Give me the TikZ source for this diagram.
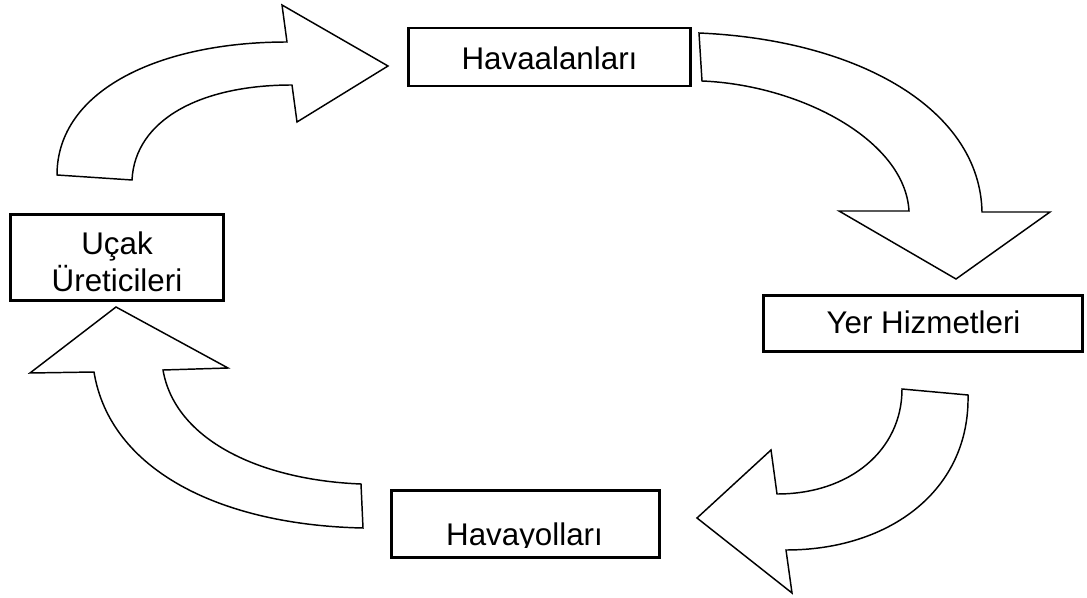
\documentclass[tikz,border=0pt]{standalone}
\usepackage{fontspec}
\setmainfont{Liberation Sans}
\begin{document}
\begin{tikzpicture}[x=0.75pt,y=-0.75pt,
  box/.style={draw=black,line width=2.2pt,fill=white,inner sep=0pt},
  lbl/.style={font=\fontsize{23.5}{27.75}\selectfont,align=center,inner sep=0pt},
  bentarrow/.style={draw=black,line width=1.1pt,fill=white,line join=miter}]
\useasboundingbox (0,0) rectangle (1087,598);

% stations of the cycle
\node[box,minimum width=212pt,minimum height=43.5pt] (hav) at (549.5,57) {};
\node[lbl] (havt) at (549.5,58) {Havaalanları};
\node[box,minimum width=160pt,minimum height=64.5pt] (ucak) at (117,257.5) {};
\node[lbl] (ucakt) at (117,262) {Uçak\\Üreticileri};
\node[box,minimum width=239pt,minimum height=42pt] (yer) at (923,323.5) {};
\node[lbl] (yert) at (923.5,322.5) {Yer Hizmetleri};
\node[box,minimum width=201pt,minimum height=50pt] (hyo) at (525.5,524) {};
\begin{scope}
  \clip (392,491) rectangle (659,547);
  \node[lbl,anchor=base] (hyot) at (524.5,545) {Havayolları};
\end{scope}

% bent arrow: manufacturers -> airports
\draw[bentarrow] (57,175) .. controls (57,90) and (160,42) .. (287,42)
  -- (282,5) -- (388,66) -- (297,122) -- (292,85)
  .. controls (200,85) and (135,120) .. (132,180) -- cycle;

% bent arrow: airports -> ground services
\draw[bentarrow] (699,33) .. controls (860,40) and (980,110) .. (982,212)
  -- (1050,212) -- (956,279) -- (839,211) -- (909,211)
  .. controls (905,140) and (800,85) .. (702,81) -- cycle;

% bent arrow: ground services -> airlines
\draw[bentarrow] (968,395) .. controls (970,490) and (890,550) .. (786,550)
  -- (792,593) -- (697,518) -- (771,450) -- (777,494)
  .. controls (850,494) and (902,450) .. (902,389) -- cycle;

% bent arrow: airlines -> manufacturers
\draw[bentarrow] (363,528) .. controls (220,525) and (110,470) .. (94,372)
  -- (30,373) -- (116,307) -- (228,368) -- (163,370)
  .. controls (175,440) and (260,480) .. (361,484) -- cycle;
\end{tikzpicture}
\end{document}
